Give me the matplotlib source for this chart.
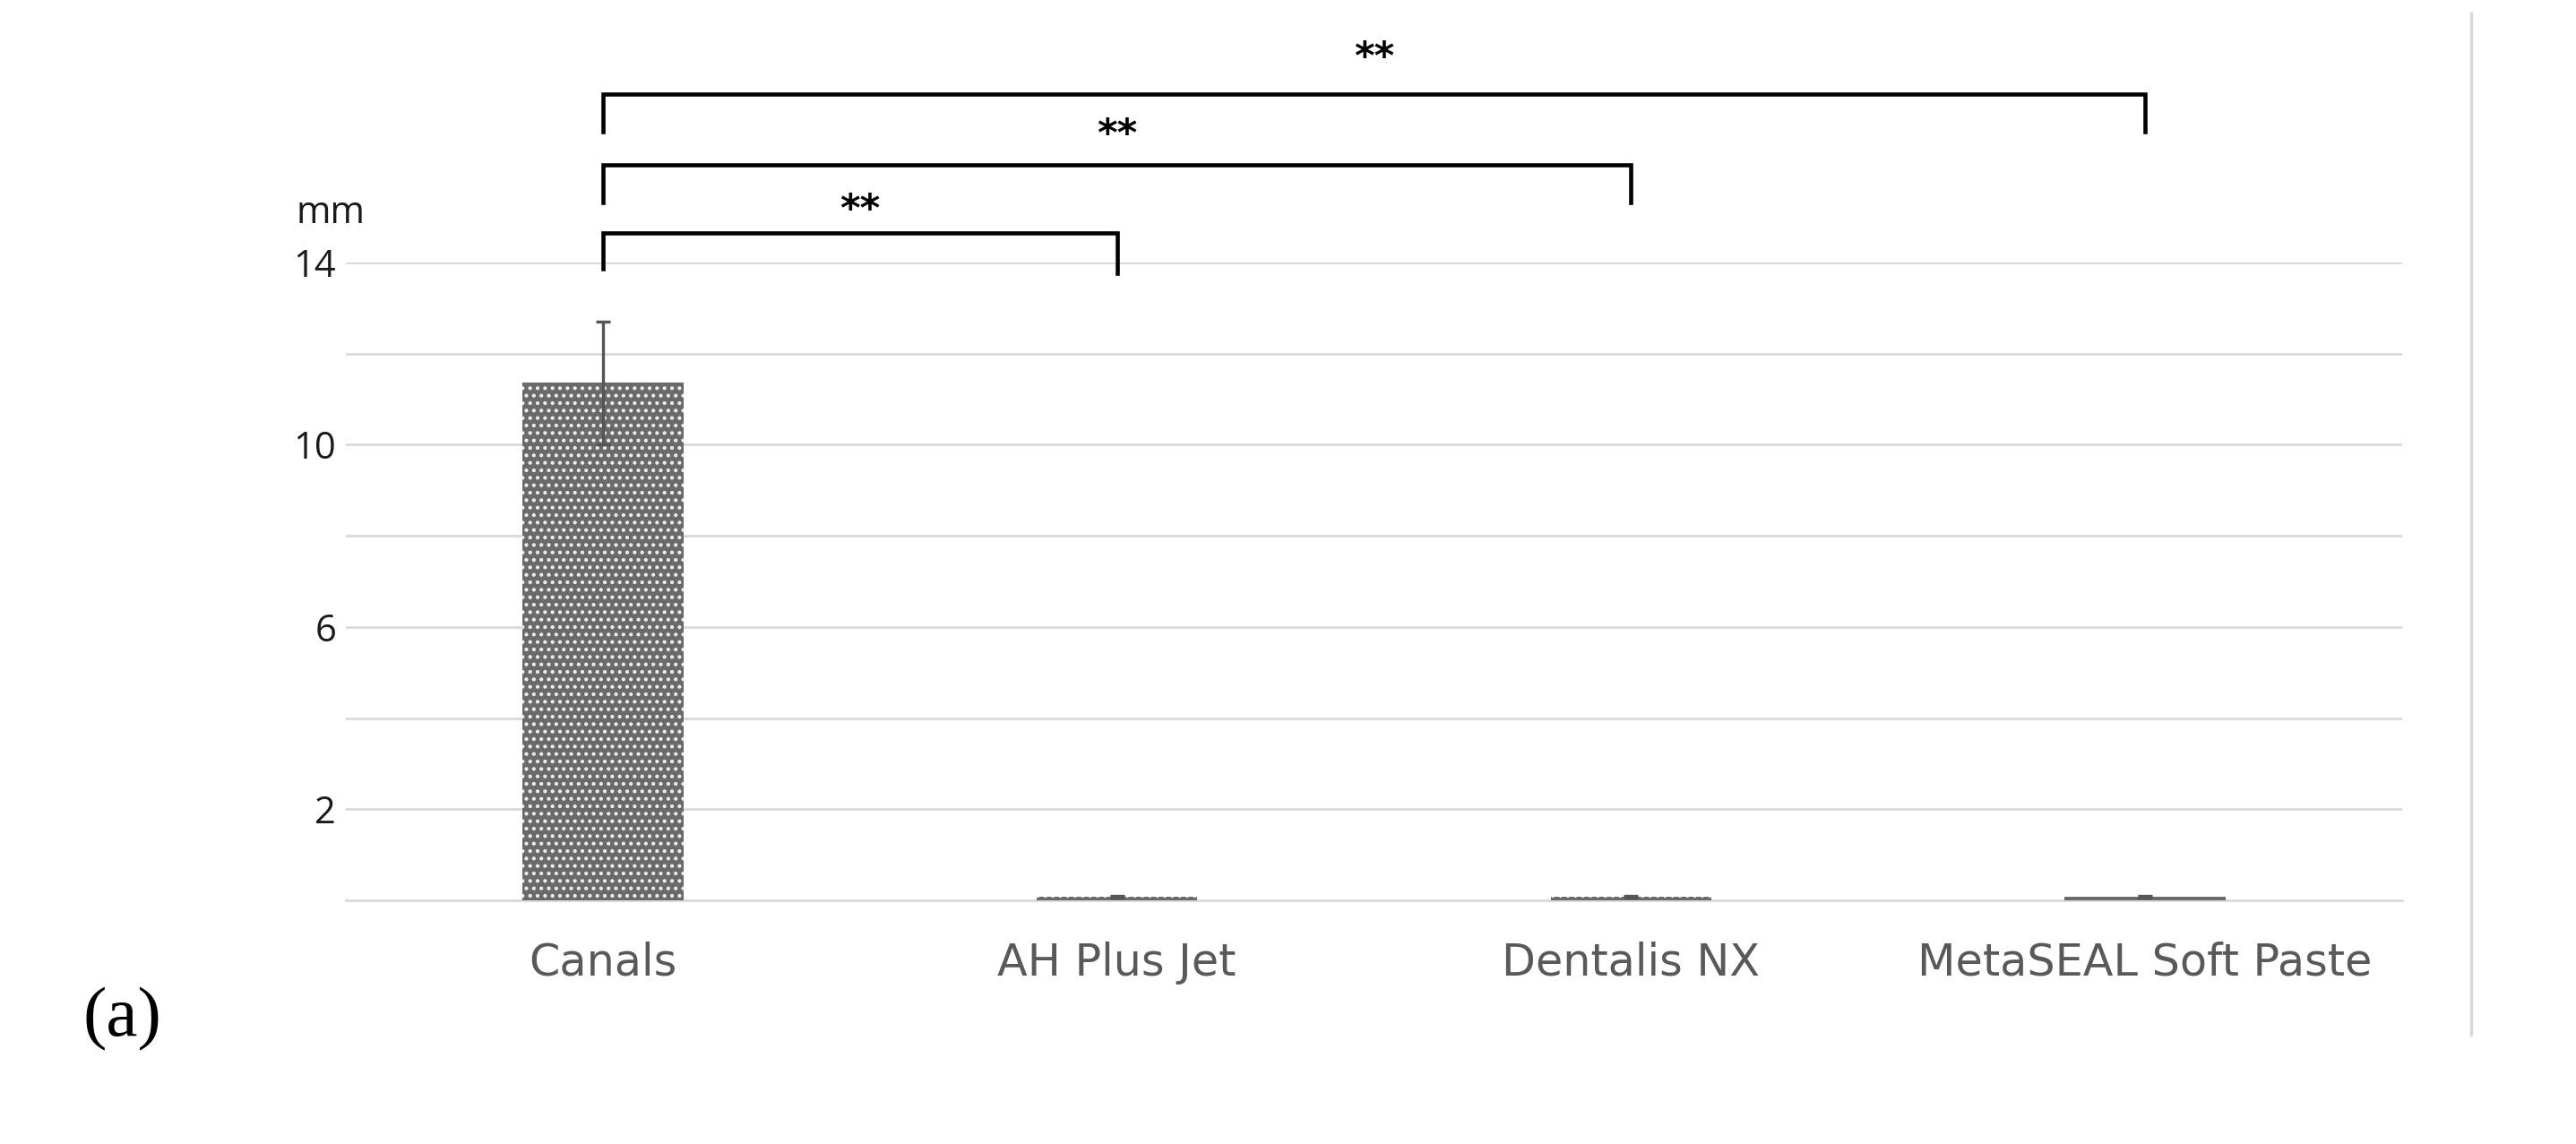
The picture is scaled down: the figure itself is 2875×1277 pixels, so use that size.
import matplotlib
matplotlib.use("Agg")
import matplotlib.pyplot as plt
from matplotlib.lines import Line2D
from matplotlib.transforms import blended_transform_factory

categories = ["Canals", "AH Plus Jet", "Dentalis NX", "MetaSEAL Soft Paste"]
means = [11.36, 0.08, 0.07, 0.08]
errors = [1.35, 0.02, 0.02, 0.02]
yticks_major = [2, 6, 10, 14]
yticks_minor = [4, 8, 12]
# significance brackets: (left category, right category, bracket height, leg bottom-left, leg bottom-right, label)
brackets = [
    (0, 1, 14.64, 13.87, 13.77, "**"),
    (0, 2, 16.14, 15.31, 15.31, "**"),
    (0, 3, 17.69, 16.86, 16.86, "**"),
]
star_y = [15.13, 16.79, 18.49]

plt.rcParams["hatch.linewidth"] = 1.8

fig = plt.figure(figsize=(28.75, 12.77), dpi=100)
ax = fig.add_axes([0.1343, 0.213, 0.7982, 0.5576])

x = list(range(len(categories)))
hatches = ["..", "..", "..", None]
for xi, m, h in zip(x, means, hatches):
    if h:
        ax.bar(xi, m, width=0.313, color="#6a6a6a", edgecolor="#eeeeee",
               hatch=h, linewidth=0, zorder=3)
    else:
        ax.bar(xi, m, width=0.313, color="#6a6a6a", linewidth=0, zorder=3)
ax.errorbar(x, means, yerr=errors, fmt="none", ecolor="#555555",
            elinewidth=2.4, capsize=6, capthick=2.4, zorder=4)

ax.set_xlim(-0.5, 3.5)
ax.set_ylim(0, 14)
ax.set_yticks(yticks_major)
ax.set_yticks(yticks_minor, minor=True)
ax.grid(True, axis="y", which="both", color="#d9d9d9", linewidth=2, zorder=0)
for s in ["top", "right", "left"]:
    ax.spines[s].set_visible(False)
ax.spines["bottom"].set_color("#d9d9d9")
ax.spines["bottom"].set_linewidth(2)
ax.tick_params(axis="both", which="both", length=0)
ax.tick_params(axis="y", pad=8, labelsize=30, labelcolor="#1a1a1a")
ax.tick_params(axis="x", pad=33, labelsize=35.5, labelcolor="#595959")
ax.set_xticks(x)
ax.set_xticklabels(categories, fontfamily="DejaVu Sans")
for lab in ax.get_yticklabels():
    lab.set_fontfamily("Open Sans")

trans = blended_transform_factory(ax.transAxes, ax.transData)
ax.text(-0.0244, 15.08, "mm", transform=trans, fontsize=30, color="#1a1a1a",
        fontfamily="Open Sans", ha="left", va="center", clip_on=False)

for (l, r, yh, yl, yr, lab), ys in zip(brackets, star_y):
    ax.plot([l, l, r, r], [yl, yh, yh, yr], color="black", linewidth=3.3,
            clip_on=False, zorder=5, solid_joinstyle="miter")
    ax.text((l + r) / 2, ys, lab, ha="center", va="center", fontsize=31,
            fontweight="bold", color="black", clip_on=False)

fig.add_artist(Line2D([0.9593, 0.9593], [0.0955, 0.988], color="#d9d9d9",
                      linewidth=2.5, transform=fig.transFigure))
fig.text(0.032, 0.1096, "(a)", fontsize=57, fontfamily="Liberation Serif",
         ha="left", va="center", color="black")

fig.savefig("out.png", dpi=100)
